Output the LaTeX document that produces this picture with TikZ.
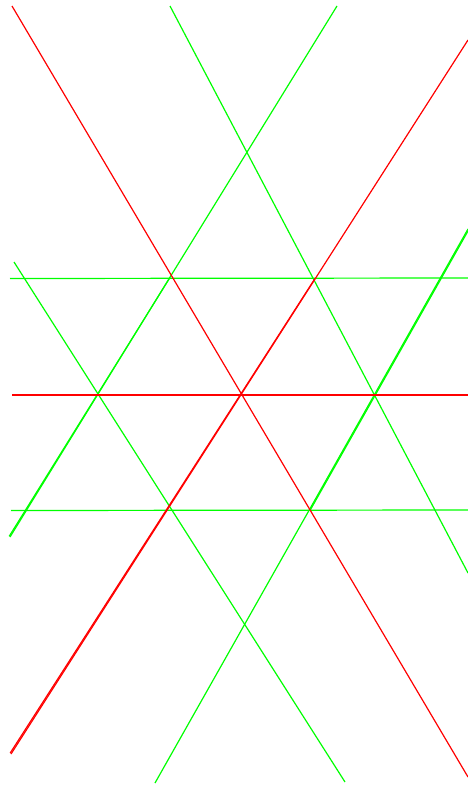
\documentclass[tikz,border=0pt]{standalone}
\usepackage{tikz}
\begin{document}
\begin{tikzpicture}[x=1pt,y=-1pt,
  redline/.style={draw={rgb,255:red,255;green,0;blue,0},line width=1.2pt},
  greenline/.style={draw={rgb,255:red,0;green,255;blue,0},line width=1.2pt}]
\useasboundingbox (0,0) rectangle (468,787);
\clip (0,0) rectangle (468,787);
% green horizontals
\draw[greenline] (10,278.5) -- (468,278);
\draw[greenline] (11,510.5) -- (468,510);
% green diagonals
\draw[greenline] (14,262) -- (345,782);
\draw[greenline] (170,6) -- (468,573);
\draw[greenline] (337,6) -- (10,537);
\draw[greenline] (170,277.5) -- (9.2,536.3);
\draw[greenline] (468,229) -- (155,783);
\draw[greenline] (468,231) -- (310,510.5);
% red lines
\draw[redline] (12,6) -- (468,777);
\draw[redline] (11,754) -- (468,40);
\draw[redline] (315,278.5) -- (10.2,753);
\draw[redline] (12,395) -- (468,395);
\end{tikzpicture}
\end{document}
